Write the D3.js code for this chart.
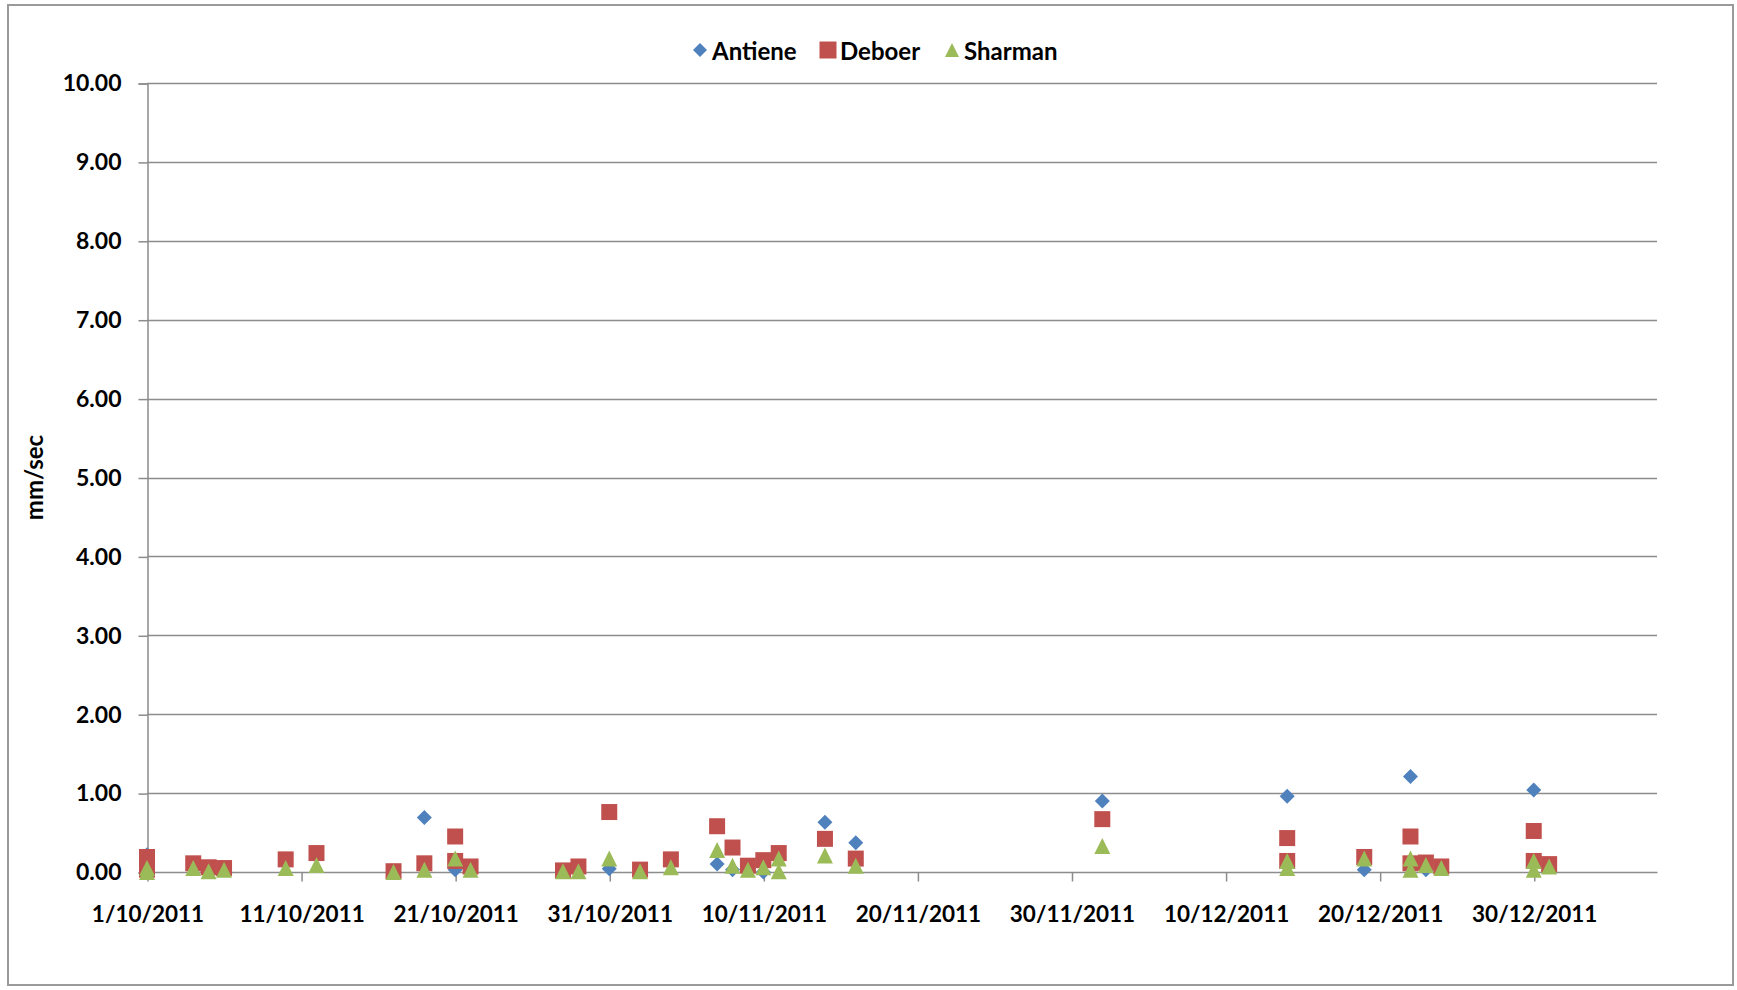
<!DOCTYPE html>
<html>
<head>
<meta charset="utf-8">
<script src="https://cdn.jsdelivr.net/npm/d3@7"></script>
<style>
  body { margin: 0; background: #fff; }
  text { font-family: Lato, "Open Sans", sans-serif; font-weight: 700; fill: #000; }
</style>
</head>
<body>
<div id="root"></div>
<script>
const seriesNames = ["Antiene", "Deboer", "Sharman"];
const seriesColors = ["#4F81BD", "#C0504D", "#9BBB59"];

const tickLabels = ["1/10/2011", "11/10/2011", "21/10/2011", "31/10/2011", "10/11/2011",
  "20/11/2011", "30/11/2011", "10/12/2011", "20/12/2011", "30/12/2011"];
const yTicks = [0, 1, 2, 3, 4, 5, 6, 7, 8, 9, 10];

const antieneDates = ["1/10/2011", "19/10/2011", "21/10/2011", "31/10/2011", "7/11/2011",
  "8/11/2011", "10/11/2011", "14/11/2011", "16/11/2011", "2/12/2011", "14/12/2011",
  "19/12/2011", "22/12/2011", "23/12/2011", "30/12/2011"];
const antieneValues = [0.22, 0.69, 0.03, 0.04, 0.10,
  0.03, 0.00, 0.63, 0.37, 0.90, 0.96,
  0.03, 1.21, 0.03, 1.04];

const deboerDates = ["1/10/2011", "1/10/2011", "4/10/2011", "5/10/2011", "6/10/2011",
  "10/10/2011", "12/10/2011", "17/10/2011", "19/10/2011", "21/10/2011", "21/10/2011",
  "22/10/2011", "28/10/2011", "29/10/2011", "31/10/2011", "2/11/2011", "4/11/2011",
  "7/11/2011", "8/11/2011", "9/11/2011", "10/11/2011", "11/11/2011", "14/11/2011",
  "16/11/2011", "2/12/2011", "14/12/2011", "14/12/2011", "19/12/2011", "22/12/2011",
  "22/12/2011", "23/12/2011", "24/12/2011", "30/12/2011", "30/12/2011", "31/12/2011"];
const deboerValues = [0.19, 0.03, 0.11, 0.06, 0.05,
  0.16, 0.24, 0.01, 0.11, 0.45, 0.14,
  0.07, 0.02, 0.07, 0.76, 0.03, 0.16,
  0.58, 0.31, 0.08, 0.15, 0.24, 0.42,
  0.17, 0.67, 0.43, 0.14, 0.19, 0.45,
  0.11, 0.12, 0.07, 0.52, 0.14, 0.10];

const sharmanDates = ["1/10/2011", "1/10/2011", "4/10/2011", "5/10/2011", "6/10/2011",
  "10/10/2011", "12/10/2011", "17/10/2011", "19/10/2011", "21/10/2011", "22/10/2011",
  "28/10/2011", "29/10/2011", "31/10/2011", "2/11/2011", "4/11/2011", "7/11/2011",
  "8/11/2011", "9/11/2011", "10/11/2011", "11/11/2011", "11/11/2011", "14/11/2011",
  "16/11/2011", "2/12/2011", "14/12/2011", "14/12/2011", "19/12/2011", "22/12/2011",
  "22/12/2011", "23/12/2011", "24/12/2011", "30/12/2011", "30/12/2011", "31/12/2011"];
const sharmanValues = [0.05, 0.00, 0.05, 0.01, 0.03,
  0.05, 0.09, 0.00, 0.03, 0.17, 0.03,
  0.01, 0.01, 0.17, 0.01, 0.06, 0.28,
  0.08, 0.03, 0.06, 0.17, 0.01, 0.21,
  0.08, 0.33, 0.14, 0.05, 0.17, 0.17,
  0.03, 0.09, 0.05, 0.14, 0.03, 0.07];

const xStart = "1/10/2011";
const xEnd = "7/1/2012";

const w = 1737;
const h = 990;
const plotLeft = 147, plotRight = 1657, plotTop = 83, plotBottom = 872;
const parseDate = d3.timeParse("%d/%m/%Y");

// excel style markers, centred on the point
const diamond = {
  draw(ctx, size) {
    const r = Math.sqrt(size) / 2;
    ctx.moveTo(0, -r); ctx.lineTo(r, 0); ctx.lineTo(0, r); ctx.lineTo(-r, 0); ctx.closePath();
  }
};
const square = {
  draw(ctx, size) {
    const r = Math.sqrt(size) / 2;
    ctx.rect(-r, -r, 2 * r, 2 * r);
  }
};
const triangle = {
  draw(ctx, size) {
    const r = Math.sqrt(size) / 2;
    ctx.moveTo(0, -r); ctx.lineTo(r, r); ctx.lineTo(-r, r); ctx.closePath();
  }
};
const symbols = [diamond, square, triangle];
const markerSizes = [15 * 15, 16 * 16, 16 * 16];

const series = [
  [antieneDates, antieneValues],
  [deboerDates, deboerValues],
  [sharmanDates, sharmanValues]
].map(([dates, values], i) => ({
  name: seriesNames[i],
  color: seriesColors[i],
  points: dates.map((d, j) => ({ date: parseDate(d), value: values[j] }))
}));

const xScale = d3.scaleTime()
  .domain([parseDate(xStart), parseDate(xEnd)])
  .range([plotLeft, plotRight]);

const yScale = d3.scaleLinear()
  .domain([0, 10])
  .range([plotBottom, plotTop]);

const svg = d3.select("#root")
  .append("svg")
  .attr("width", w)
  .attr("height", h);

svg.append("rect")
  .attr("x", 8)
  .attr("y", 5)
  .attr("width", 1725)
  .attr("height", 980)
  .attr("fill", "#fff")
  .attr("stroke", "#9a9a9a")
  .attr("stroke-width", 2);

// gridlines
svg.append("g")
  .selectAll("line")
  .data(yTicks.slice(1))
  .enter()
  .append("line")
  .attr("x1", plotLeft)
  .attr("x2", plotRight)
  .attr("y1", d => Math.round(yScale(d)) + 0.5)
  .attr("y2", d => Math.round(yScale(d)) + 0.5)
  .attr("stroke", "#8c8c8c")
  .attr("stroke-width", 1.5);

const yAxis = d3.axisLeft(yScale)
  .tickValues(yTicks)
  .tickSize(9)
  .tickPadding(17)
  .tickFormat(d3.format(".2f"));

svg.append("g")
  .attr("id", "y-axis")
  .attr("transform", `translate(${plotLeft + 0.5}, 0.5)`)
  .call(yAxis)
  .call(g => g.select(".domain").attr("stroke", "#8c8c8c").attr("stroke-width", 1.5))
  .call(g => g.selectAll(".tick line").attr("stroke", "#8c8c8c").attr("stroke-width", 1.5))
  .call(g => g.selectAll(".tick text")
    .style("font-family", "Lato, sans-serif")
    .style("font-weight", "700")
    .style("font-size", "23px")
    .attr("fill", "#000"));

const xAxis = d3.axisBottom(xScale)
  .tickValues(tickLabels.map(parseDate))
  .tickSize(9)
  .tickPadding(25)
  .tickFormat(d3.timeFormat("%-d/%m/%Y"));

svg.append("g")
  .attr("id", "x-axis")
  .attr("transform", `translate(0.5, ${plotBottom + 0.5})`)
  .call(xAxis)
  .call(g => g.select(".domain").attr("stroke", "#8c8c8c").attr("stroke-width", 1.5)
    .attr("d", `M${plotLeft},0H${plotRight}`))
  .call(g => g.selectAll(".tick line").attr("stroke", "#8c8c8c").attr("stroke-width", 1.5))
  .call(g => g.selectAll(".tick text")
    .text((d, i) => tickLabels[i])
    .style("font-family", "Lato, sans-serif")
    .style("font-weight", "700")
    .style("font-size", "22.5px")
    .attr("fill", "#000"));

svg.append("text")
  .attr("transform", `translate(37, ${(plotTop + plotBottom) / 2}) rotate(-90)`)
  .attr("text-anchor", "middle")
  .attr("dominant-baseline", "middle")
  .style("font-size", "24px")
  .text("mm/sec");

// markers, series drawn in order so later ones sit on top
series.forEach((s, i) => {
  svg.append("g")
    .selectAll("path")
    .data(s.points)
    .enter()
    .append("path")
    .attr("d", d3.symbol().type(symbols[i]).size(markerSizes[i]))
    .attr("transform", d => `translate(${xScale(d.date)}, ${yScale(d.value)})`)
    .attr("fill", s.color);
});

// legend
const legendX = [700, 828, 952];
const legendGroup = svg.append("g")
  .attr("id", "legend");

legendGroup.selectAll("path")
  .data(series)
  .enter()
  .append("path")
  .attr("d", (d, i) => d3.symbol().type(symbols[i]).size(i === 1 ? 17 * 17 : 14 * 14)())
  .attr("transform", (d, i) => `translate(${legendX[i]}, 50)`)
  .attr("fill", d => d.color);

legendGroup.selectAll("text")
  .data(series)
  .enter()
  .append("text")
  .attr("x", (d, i) => legendX[i] + 12)
  .attr("y", 50)
  .attr("dominant-baseline", "central")
  .style("font-size", "24px")
  .text(d => d.name);
</script>
</body>
</html>
